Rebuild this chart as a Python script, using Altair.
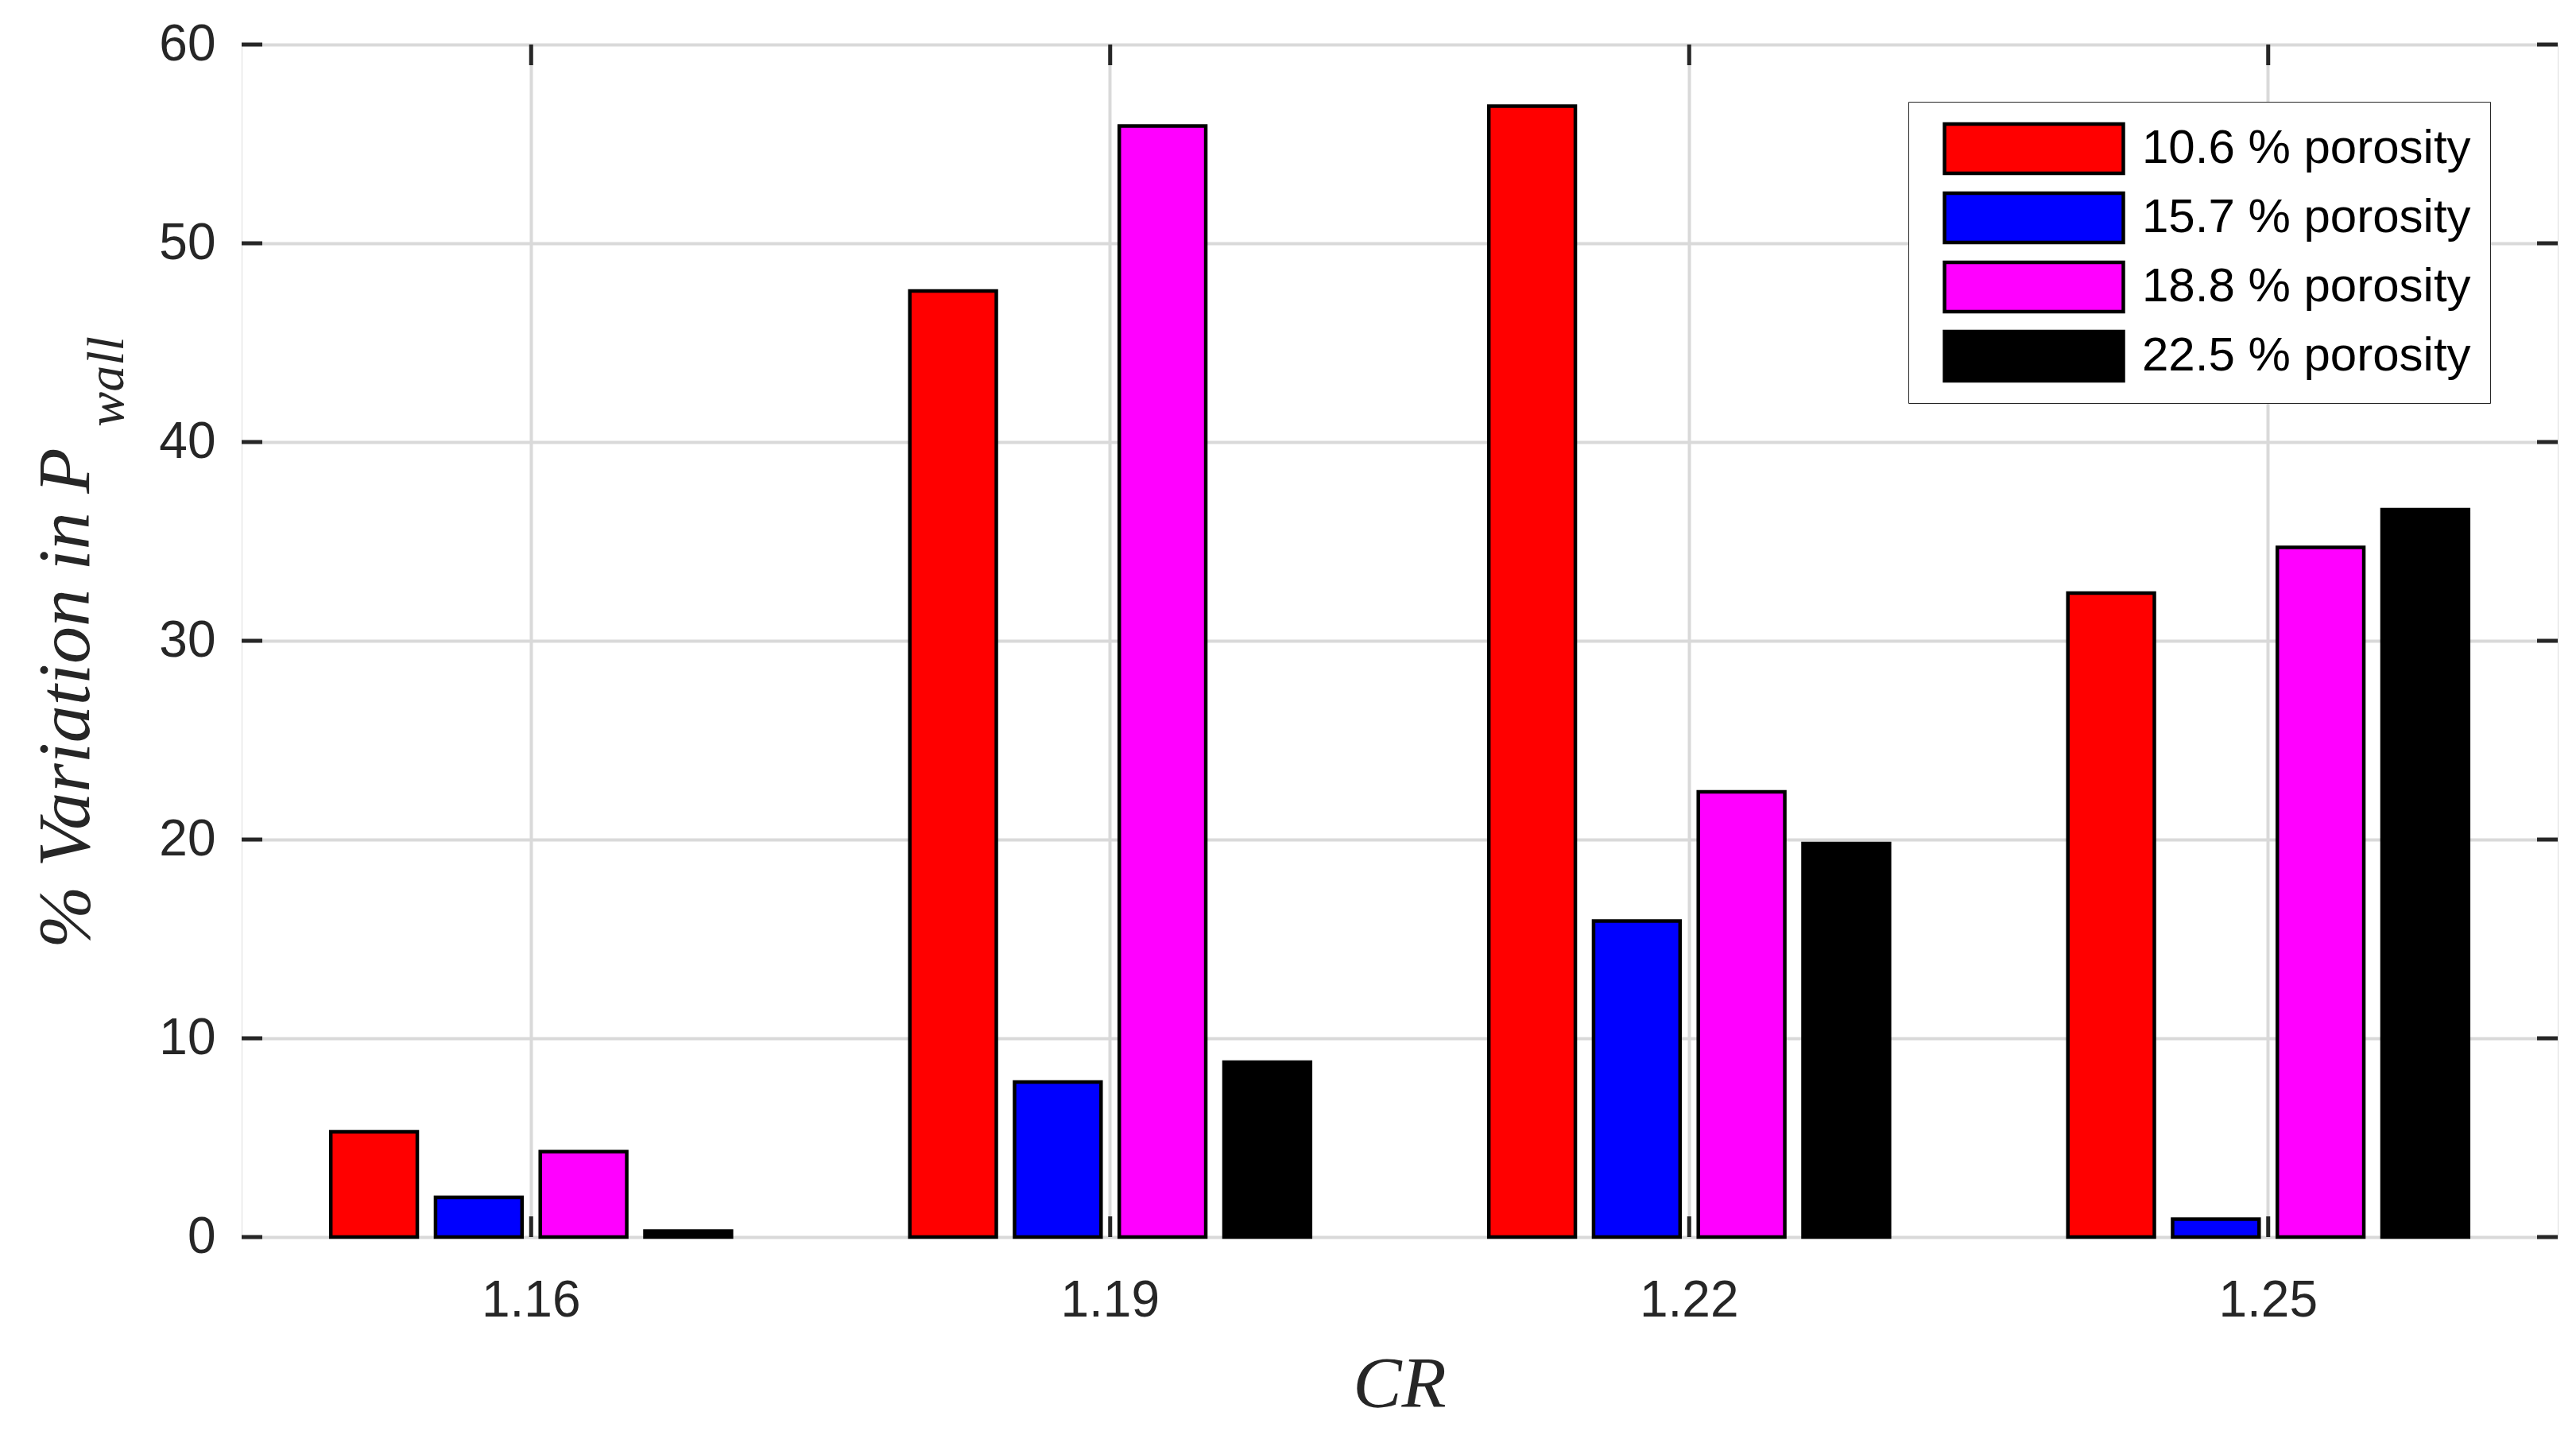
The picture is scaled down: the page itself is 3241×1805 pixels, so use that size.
import altair as alt
import pandas as pd

# ---- data ----
cr_values = ["1.16", "1.19", "1.22", "1.25"]
series_names = ["10.6 % porosity", "15.7 % porosity", "18.8 % porosity", "22.5 % porosity"]
por_10_6 = [5.3, 47.6, 56.9, 32.4]
por_15_7 = [2.0, 7.8, 15.9, 0.9]
por_18_8 = [4.3, 55.9, 22.4, 34.7]
por_22_5 = [0.3, 8.8, 19.8, 36.6]
series_colors = ["#ff0000", "#0000ff", "#ff00ff", "#000000"]
y_tick_values = [0, 10, 20, 30, 40, 50, 60]
x_title = "CR"
y_title_main = "% Variation in P"
y_title_sub = "wall"

rows = []
for name, vals in zip(series_names, [por_10_6, por_15_7, por_18_8, por_22_5]):
    for c, v in zip(cr_values, vals):
        rows.append({"CR": c, "series": name, "value": v})
df = pd.DataFrame(rows)
df_yt = pd.DataFrame({"v": y_tick_values})
df_xt = pd.DataFrame({"CR": cr_values})

W, H = 2914, 1500
SANS = "Liberation Sans"
SERIF = "Liberation Serif"
FRAME = "#262626"
TICK = 26

x_scale = alt.Scale(domain=cr_values, paddingInner=0.308, paddingOuter=0.154)
y_scale = alt.Scale(domain=[0, 60], nice=False, zero=True)

bars = alt.Chart(df).mark_bar(stroke="black", strokeWidth=4.5).encode(
    x=alt.X(
        "CR:N", scale=x_scale, sort=cr_values,
        axis=alt.Axis(title=None, labelFont=SANS, labelFontSize=64, labelColor=FRAME,
                      labelPadding=48, labelAngle=0, ticks=False, tickSize=0, domain=False,
                      grid=True, gridColor="#d9d9d9", gridWidth=4),
    ),
    xOffset=alt.XOffset("series:N", sort=series_names,
                        scale=alt.Scale(paddingInner=0.174, paddingOuter=0)),
    y=alt.Y(
        "value:Q", scale=y_scale,
        axis=alt.Axis(title=None, values=y_tick_values, format="d", labelFont=SANS,
                      labelFontSize=64, labelColor=FRAME, labelPadding=33, ticks=False,
                      tickSize=0, domain=False, grid=True, gridColor="#d9d9d9", gridWidth=4),
    ),
    color=alt.Color(
        "series:N", sort=series_names,
        scale=alt.Scale(domain=series_names, range=series_colors),
        legend=alt.Legend(
            title=None, orient="none", legendX=2097, legendY=72,
            symbolType="M-1,-0.2756H1V0.2756H-1Z", symbolSize=50625,
            symbolStrokeColor="black", symbolStrokeWidth=4.5, symbolOpacity=1,
            symbolOffset=19, clipHeight=70,
            labelFont=SANS, labelFontSize=60, labelColor="black", labelOffset=21,
            labelLimit=0, rowPadding=17, padding=24, strokeColor=FRAME, fillColor="white",
        ),
    ),
)

ytick_left = alt.Chart(df_yt).mark_rule(color=FRAME, strokeWidth=5).encode(
    y=alt.Y("v:Q", scale=y_scale), x=alt.value(0), x2=alt.value(TICK))
ytick_right = alt.Chart(df_yt).mark_rule(color=FRAME, strokeWidth=5).encode(
    y=alt.Y("v:Q", scale=y_scale), x=alt.value(W - TICK), x2=alt.value(W))
xtick_top = alt.Chart(df_xt).mark_rule(color=FRAME, strokeWidth=5).encode(
    x=alt.X("CR:N", scale=x_scale, sort=cr_values), y=alt.value(0), y2=alt.value(TICK))
xtick_bottom = alt.Chart(df_xt).mark_rule(color=FRAME, strokeWidth=5).encode(
    x=alt.X("CR:N", scale=x_scale, sort=cr_values), y=alt.value(H - TICK), y2=alt.value(H))

xlab = alt.Chart(pd.DataFrame({"t": [x_title]})).mark_text(
    font=SERIF, fontStyle="italic", fontSize=92, color=FRAME, align="center",
    baseline="alphabetic").encode(text="t:N", x=alt.value(W / 2), y=alt.value(1714))
ylab = alt.Chart(pd.DataFrame({"t": [y_title_main]})).mark_text(
    font=SERIF, fontStyle="italic", fontSize=94, color=FRAME, align="center",
    baseline="alphabetic", angle=270).encode(text="t:N", x=alt.value(-192), y=alt.value(822))
ysub = alt.Chart(pd.DataFrame({"t": [y_title_sub]})).mark_text(
    font=SERIF, fontStyle="italic", fontSize=66, color=FRAME, align="center",
    baseline="alphabetic", angle=270).encode(text="t:N", x=alt.value(-149), y=alt.value(424))

chart = alt.layer(
    bars, ytick_left, ytick_right, xtick_top, xtick_bottom, xlab, ylab, ysub
).properties(
    width=W, height=H,
    autosize=alt.AutoSizeParams(type="none"),
    padding={"left": 296, "top": 48, "right": 15, "bottom": 235},
).configure_view(
    stroke=FRAME, strokeWidth=5
).configure_legend(
    strokeWidth=5
).configure(background="white")

chart.save("out.html", embed_options={"renderer": "svg", "actions": False})
